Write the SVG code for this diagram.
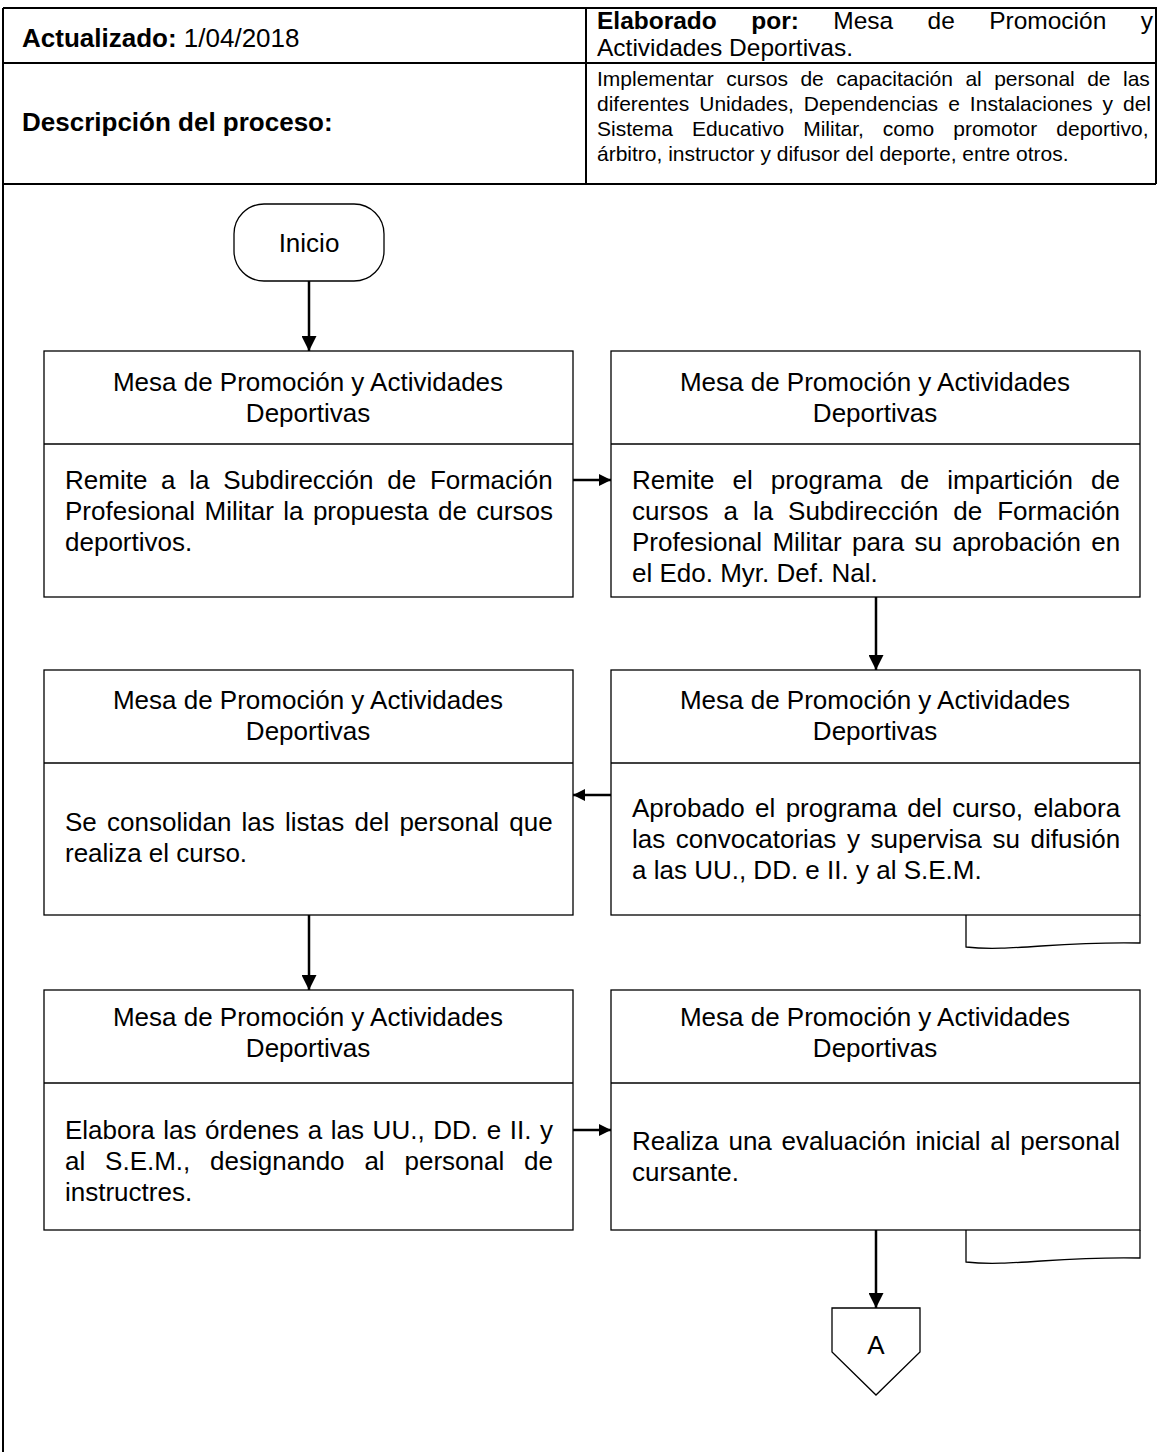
<svg xmlns="http://www.w3.org/2000/svg" width="1159" height="1452" viewBox="0 0 1159 1452">
<defs>
<marker id="ah" viewBox="0 0 10 10" refX="10" refY="5" markerWidth="12" markerHeight="12" markerUnits="userSpaceOnUse" orient="auto"><path d="M0,0 L10,5 L0,10 Z" fill="#000"/></marker>
<marker id="ahv" viewBox="0 0 14 14" refX="14" refY="7" markerWidth="15" markerHeight="15" markerUnits="userSpaceOnUse" orient="auto"><path d="M0,0 L14,7 L0,14 Z" fill="#000"/></marker>
</defs>
<style>
text{font-family:"Liberation Sans",Arial,sans-serif;fill:#000}
.t{font-size:26px}
.e{font-size:24.5px}
.b{font-weight:bold}
.s{font-size:21px}
.c{text-anchor:middle}
.box{fill:#fff;stroke:#000;stroke-width:1.3}
.ln{fill:none;stroke:#000;stroke-width:1.3}
.tab{fill:none;stroke:#000;stroke-width:1.3}
.con{fill:none;stroke:#000;stroke-width:2.5}
.frame{fill:none;stroke:#000;stroke-width:2}
</style>
<rect width="1159" height="1452" fill="#fff"/>
<g id="header">
<path class="frame" d="M3,8 H1156 V184 M3,63 H1156 M3,184 H1156 M3,8 V1452 M586,8 V184"/>
<text class="t" x="22" y="47"><tspan class="b">Actualizado:</tspan> 1/04/2018</text>
<text class="e" x="597" y="29" style="word-spacing:27.6px"><tspan class="b">Elaborado por:</tspan> Mesa de Promoción y</text>
<text class="e" x="597" y="56">Actividades Deportivas.</text>
<text class="t b" x="22" y="131">Descripción del proceso:</text>
<text class="s" x="597" y="86" style="word-spacing:6.6px">Implementar cursos de capacitación al personal de las</text>
<text class="s" x="597" y="111" style="word-spacing:4.2px">diferentes Unidades, Dependencias e Instalaciones y del</text>
<text class="s" x="597" y="136" style="word-spacing:13.2px">Sistema Educativo Militar, como promotor deportivo,</text>
<text class="s" x="597" y="161">árbitro, instructor y difusor del deporte, entre otros.</text>
</g>
<g id="inicio">
<rect class="box" x="234" y="204" width="150" height="77" rx="30" ry="30"/>
<text class="t c" x="309" y="252">Inicio</text>
</g>
<g id="n1">
<rect class="box" x="44" y="351" width="529" height="246"/>
<line class="ln" x1="44" y1="444" x2="573" y2="444"/>
<text class="t c" x="308" y="391">Mesa de Promoción y Actividades</text>
<text class="t c" x="308" y="422">Deportivas</text>
<text class="t" x="65" y="489" style="word-spacing:6.5px">Remite a la Subdirección de Formación</text>
<text class="t" x="65" y="520" style="word-spacing:2.2px">Profesional Militar la propuesta de cursos</text>
<text class="t" x="65" y="551">deportivos.</text>
</g>
<g id="n2">
<rect class="box" x="611" y="351" width="529" height="246"/>
<line class="ln" x1="611" y1="444" x2="1140" y2="444"/>
<text class="t c" x="875" y="391">Mesa de Promoción y Actividades</text>
<text class="t c" x="875" y="422">Deportivas</text>
<text class="t" x="632" y="489" style="word-spacing:10.9px">Remite el programa de impartición de</text>
<text class="t" x="632" y="520" style="word-spacing:7.7px">cursos a la Subdirección de Formación</text>
<text class="t" x="632" y="551" style="word-spacing:3.1px">Profesional Militar para su aprobación en</text>
<text class="t" x="632" y="582">el Edo. Myr. Def. Nal.</text>
</g>
<g id="n3">
<path class="tab" d="M966,915 V947 C1010,952 1060,941 1140,943 V915"/>
<rect class="box" x="611" y="670" width="529" height="245"/>
<line class="ln" x1="611" y1="763" x2="1140" y2="763"/>
<text class="t c" x="875" y="709">Mesa de Promoción y Actividades</text>
<text class="t c" x="875" y="740">Deportivas</text>
<text class="t" x="632" y="817" style="word-spacing:3.1px">Aprobado el programa del curso, elabora</text>
<text class="t" x="632" y="848" style="word-spacing:3.4px">las convocatorias y supervisa su difusión</text>
<text class="t" x="632" y="879">a las UU., DD. e II. y al S.E.M.</text>
</g>
<g id="n4">
<rect class="box" x="44" y="670" width="529" height="245"/>
<line class="ln" x1="44" y1="763" x2="573" y2="763"/>
<text class="t c" x="308" y="709">Mesa de Promoción y Actividades</text>
<text class="t c" x="308" y="740">Deportivas</text>
<text class="t" x="65" y="831" style="word-spacing:3px">Se consolidan las listas del personal que</text>
<text class="t" x="65" y="862">realiza el curso.</text>
</g>
<g id="n5">
<rect class="box" x="44" y="990" width="529" height="240"/>
<line class="ln" x1="44" y1="1083" x2="573" y2="1083"/>
<text class="t c" x="308" y="1026">Mesa de Promoción y Actividades</text>
<text class="t c" x="308" y="1057">Deportivas</text>
<text class="t" x="65" y="1139" style="word-spacing:1.4px">Elabora las órdenes a las UU., DD. e II. y</text>
<text class="t" x="65" y="1170" style="word-spacing:12.6px">al S.E.M., designando al personal de</text>
<text class="t" x="65" y="1201">instructres.</text>
</g>
<g id="n6">
<path class="tab" d="M966,1230 V1262 C1010,1267 1060,1256 1140,1258 V1230"/>
<rect class="box" x="611" y="990" width="529" height="240"/>
<line class="ln" x1="611" y1="1083" x2="1140" y2="1083"/>
<text class="t c" x="875" y="1026">Mesa de Promoción y Actividades</text>
<text class="t c" x="875" y="1057">Deportivas</text>
<text class="t" x="632" y="1150" style="word-spacing:2.5px">Realiza una evaluación inicial al personal</text>
<text class="t" x="632" y="1181">cursante.</text>
</g>
<g id="connA">
<path class="box" d="M832,1308 H920 V1352 L876,1395 L832,1352 Z"/>
<text class="t c" x="876" y="1354">A</text>
</g>
<g id="connectors">
<line class="con" x1="309" y1="281" x2="309" y2="351" marker-end="url(#ahv)"/>
<line class="con" x1="573" y1="480" x2="611" y2="480" marker-end="url(#ah)"/>
<line class="con" x1="876" y1="597" x2="876" y2="670" marker-end="url(#ahv)"/>
<line class="con" x1="611" y1="795" x2="573" y2="795" marker-end="url(#ah)"/>
<line class="con" x1="309" y1="915" x2="309" y2="990" marker-end="url(#ahv)"/>
<line class="con" x1="573" y1="1130" x2="611" y2="1130" marker-end="url(#ah)"/>
<line class="con" x1="876" y1="1230" x2="876" y2="1308" marker-end="url(#ahv)"/>
</g>
</svg>
